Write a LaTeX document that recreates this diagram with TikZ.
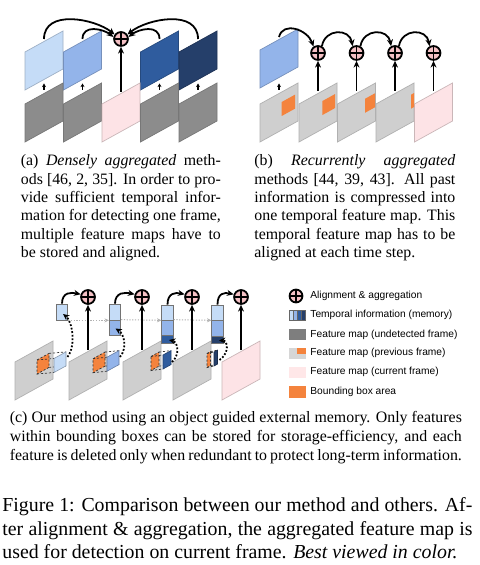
\documentclass[tikz,border=0pt]{standalone}
\usepackage{fontspec}
\setmainfont{Liberation Serif}
\newfontfamily\legendfont{Liberation Sans}
\usetikzlibrary{arrows.meta}
\definecolor{blA}{HTML}{C5DCF7}
\definecolor{blB}{HTML}{93B4EA}
\definecolor{blC}{HTML}{2F5C9E}
\definecolor{blD}{HTML}{253F6A}
\definecolor{grD}{HTML}{8C8C8C}
\definecolor{grL}{HTML}{CFCFCF}
\definecolor{pnk}{HTML}{FDE3E6}
\definecolor{org}{HTML}{F4833D}
\definecolor{cpink}{HTML}{F4C0C4}
\newcommand\fmapat[3]{\filldraw[#3] (#1,#2) -- ++(38,-21) -- ++(0,38) -- ++(-38,21) -- cycle;}
\newcommand\orgbox[3]{\fill[org] (#1,#2) -- ++(#3,{-0.5526*#3}) -- ++(0,14) -- ++(-#3,{0.5526*#3}) -- cycle;}
\newcommand\cubeat[6]{%
  \fill[org] (#1,#2) -- ++(#3,-#4) -- ++(0,14) -- ++(-#3,#4) -- cycle;
  \draw[dashln] (#1,#2) -- ++(#3,-#4) -- ++(0,14) -- ++(-#3,#4) -- cycle;
  \draw[dashln] (#1,#2) -- ++(#5,-1.5)
     ({#1+#3},{#2-#4}) -- ++(#5,-1.5)
     ({#1+#3},{#2-#4+14}) -- ++(#5,-1.5)
     (#1,{#2+14}) -- ++(#5,-1.5);
  \filldraw[fill=#6, draw=#6!70!black, line width=0.3pt] ({#1+#5},{#2-1.5}) -- ++(#3,-#4) -- ++(0,14) -- ++(-#3,#4) -- cycle;}
\newcommand\capsetup{\tolerance=10000\hbadness=10000\hyphenpenalty=10000\parindent=0pt\relax}
\begin{document}
\begin{tikzpicture}[x=0.504pt,y=-0.504pt,
  fA/.style={fill=blA,draw=blA!80!black,line width=0.35pt},
  fB/.style={fill=blB,draw=blB!80!black,line width=0.35pt},
  fC/.style={fill=blC,draw=blC!80!black,line width=0.35pt},
  fD/.style={fill=blD,draw=blD!80!black,line width=0.35pt},
  fdark/.style={fill=grD,draw=grD!85!black,line width=0.35pt},
  flight/.style={fill=grL,draw=grL!85!black,line width=0.35pt},
  fpink/.style={fill=pnk,draw=pnk!80!black,line width=0.35pt},
  agg/.style={circle,draw=black,line width=0.9pt,fill=cpink,minimum size=7pt,inner sep=0pt,
    path picture={\draw[line width=0.7pt] (path picture bounding box.north) -- (path picture bounding box.south)
      (path picture bounding box.west) -- (path picture bounding box.east);}},
  arr/.style={-{Stealth[length=3.4pt,width=3pt]},line width=0.9pt},
  tinyarr/.style={-{Stealth[length=1.8pt,width=2pt]},line width=0.6pt},
  dotarr/.style={-{Stealth[length=3.2pt,width=3pt]},line width=0.9pt,dash pattern=on 0.9pt off 0.9pt},
  gdot/.style={-{Stealth[length=2.2pt,width=2pt]},draw=black!30,line width=0.5pt,dash pattern=on 0.6pt off 0.8pt},
  dashln/.style={draw=black!80,line width=0.35pt,dash pattern=on 1.1pt off 0.9pt},
  mem/.style={draw=black!55,line width=0.35pt,minimum width=11.5*0.504pt,inner sep=0pt},
  captext/.style={anchor=north west,inner sep=0pt,align=justify},
  lgtext/.style={anchor=west,inner sep=0pt,font=\legendfont\fontsize{5.15}{6}\selectfont}]
\fill[white] (0,0) rectangle (479,565);
\useasboundingbox (0,0) rectangle (479,565);
% ---------------- panel (a)
\fmapat{25}{52}{fA}
\fmapat{63.5}{52}{fB}
\fmapat{140.5}{52}{fC}
\fmapat{179}{52}{fD}
\fmapat{25}{104}{fdark}
\fmapat{63.5}{104}{fdark}
\fmapat{102}{104}{fpink}
\fmapat{140.5}{104}{fdark}
\fmapat{179}{104}{fdark}
\foreach \i/\x in {1/44,2/82.5,4/159.5,5/198}{
  \coordinate (ta\i) at (\x,90);
  \coordinate (tb\i) at (\x,83.5);
  \draw[tinyarr] (ta\i) -- (tb\i);}
\node[agg] (ca) at (121,39) {};
\coordinate (pa) at (121,92);
\draw[arr] (pa) -- (ca.south);
\coordinate (a1) at (44,39);
\coordinate (a2) at (82.5,39);
\coordinate (a4) at (159.5,39);
\coordinate (a5) at (198,39);
\draw[arr] (a1) .. controls +(0,-30) and +(-20,-16) .. (ca.145);
\draw[arr] (a2) .. controls +(0,-15) and +(-10,-8) .. (ca.165);
\draw[arr] (a4) .. controls +(0,-15) and +(10,-8) .. (ca.15);
\draw[arr] (a5) .. controls +(0,-30) and +(20,-16) .. (ca.35);
% ---------------- panel (b)
\fmapat{260}{50}{fB}
\fmapat{260}{104}{flight}
\fmapat{299}{104}{flight}
\fmapat{337.5}{104}{flight}
\fmapat{376}{104}{flight}
\fmapat{414.5}{104}{fpink}
\orgbox{281.7}{102}{13.3}
\orgbox{322.3}{101.1}{12.7}
\orgbox{365}{98.8}{10}
\orgbox{411}{94.7}{3}
\coordinate (tbs) at (279,90);
\coordinate (tbe) at (279,83.5);
\draw[tinyarr] (tbs) -- (tbe);
\foreach \i/\x in {1/318,2/356.5,3/395,4/433.5}{
  \node[agg] (cb\i) at (\x,53) {};
  \coordinate (vb\i) at (\x,91);
  \draw[arr] (vb\i) -- (cb\i.south);}
\coordinate (bt) at (279,37);
\draw[arr] (bt) .. controls +(4,-16) and +(-6,-17) .. (cb1.125);
\draw[arr] (cb1.60) .. controls +(3,-18) and +(-3,-18) .. (cb2.120);
\draw[arr] (cb2.60) .. controls +(3,-18) and +(-3,-18) .. (cb3.120);
\draw[arr] (cb3.60) .. controls +(3,-18) and +(-3,-18) .. (cb4.120);
% ---------------- panel (c)
\fmapat{15}{362}{flight}
\fmapat{69}{362}{flight}
\fmapat{123}{362}{flight}
\fmapat{173}{362}{flight}
\fmapat{222}{362}{fpink}
\cubeat{37}{360}{12}{6.6}{17}{blA}
\cubeat{93}{358.7}{12}{6.6}{14}{blB}
\cubeat{151}{356.5}{8}{4.4}{12}{blC}
\cubeat{207}{353.5}{3.5}{1.9}{7}{blD}
% memory
\node[mem,fill=blA,minimum height=16*0.504pt] (m1a) at (62,312) {};
\node[mem,fill=blA,minimum height=16*0.504pt] (m2a) at (115,312) {};
\node[mem,fill=blB,minimum height=15*0.504pt] (m2b) at (115,327.5) {};
\node[mem,fill=blA,minimum height=15*0.504pt] (m3a) at (167.5,312.5) {};
\node[mem,fill=blB,minimum height=15*0.504pt] (m3b) at (167.5,327.5) {};
\node[mem,fill=blC,minimum height=8*0.504pt] (m3c) at (167.5,339) {};
\node[mem,fill=blA,minimum height=15*0.504pt] (m4a) at (217.5,312.5) {};
\node[mem,fill=blB,minimum height=16*0.504pt] (m4b) at (217.5,328) {};
\node[mem,fill=blD,minimum height=7*0.504pt] (m4c) at (217.5,339.5) {};
\draw[gdot] (m1a.south east) -- (m2a.south west);
\draw[gdot] (m2b.north east) -- (m3a.south west);
\draw[gdot] (m3b.north east) -- (m4a.south west);
\foreach \i/\x in {1/88,2/142,3/192,4/241}{
  \node[agg] (cc\i) at (\x,297) {};
  \coordinate (vc\i) at (\x,350);
  \draw[arr] (vc\i) -- (cc\i.south);}
\draw[arr] (m1a.north) .. controls +(0,-12) and +(-9,-2) .. (cc1.160);
\draw[arr] (m2a.north) .. controls +(0,-12) and +(-9,-2) .. (cc2.160);
\draw[arr] (m3a.north) .. controls +(0,-12) and +(-9,-2) .. (cc3.160);
\draw[arr] (m4a.north) .. controls +(0,-12) and +(-9,-2) .. (cc4.160);
\coordinate (d1s) at (67.5,357);
\coordinate (d1e) at (63,314);
\coordinate (d2s) at (120,357);
\coordinate (d2e) at (115.5,328.5);
\coordinate (d3s) at (172,362);
\coordinate (d3e) at (169,340);
\coordinate (d4s) at (219.5,360);
\coordinate (d4e) at (219,340.5);
\draw[dotarr] (d1s) .. controls +(9,-12) and +(9,7) .. (d1e);
\draw[dotarr] (d2s) .. controls +(8,-10) and +(8,5) .. (d2e);
\draw[dotarr] (d3s) .. controls +(8,-7) and +(9,2) .. (d3e);
\draw[dotarr] (d4s) .. controls +(10,-7) and +(9,0) .. (d4e);
% ---------------- legend
\node[agg,minimum size=6.5pt] (lg1) at (296,296) {};
\filldraw[fill=blA,draw=black!60,line width=0.3pt] (289,310) rectangle (293.5,320.5);
\filldraw[fill=blB,draw=black!60,line width=0.3pt] (293.5,310) rectangle (297.5,320.5);
\filldraw[fill=blC,draw=black!60,line width=0.3pt] (297.5,310) rectangle (301.5,320.5);
\filldraw[fill=blD,draw=black!60,line width=0.3pt] (301.5,310) rectangle (305.5,320.5);
\fill[grD!90!black] (289,329) rectangle (305.5,340);
\fill[grL!85!white] (289,348) rectangle (305.5,358.5);
\fill[org] (297,348) rectangle (305.5,353.5);
\fill[pnk!70!red!25!white] (289,366.5) rectangle (305.5,377.5);
\fill[org] (289,386) rectangle (305.5,397.5);
\node[lgtext] (l1) at (310,296) {Alignment \& aggregation};
\node[lgtext] (l2) at (310,315) {Temporal information (memory)};
\node[lgtext] (l3) at (310,334.5) {Feature map (undetected frame)};
\node[lgtext] (l4) at (310,353) {Feature map (previous frame)};
\node[lgtext] (l5) at (310,372) {Feature map (current frame)};
\node[lgtext] (l6) at (310,392) {Bounding box area};
% ---------------- captions
\node[captext,text width=100.8pt,font=\fontsize{8}{9.25}\selectfont] (capa) at (20.5,154.5)
 {\capsetup (a) \emph{Densely aggregated} meth-\linebreak ods [46, 2, 35]. In order to pro-\linebreak vide sufficient temporal infor-\linebreak mation for detecting one frame,\linebreak multiple feature maps have to\linebreak be stored and aligned.};
\node[captext,text width=101.3pt,font=\fontsize{8}{9.25}\selectfont] (capb) at (254,154.5)
 {\capsetup (b) \emph{Recurrently aggregated}\linebreak methods [44, 39, 43]. All past\linebreak information is compressed into\linebreak one temporal feature map. This\linebreak temporal feature map has to be\linebreak aligned at each time step.};
\node[captext,text width=227.8pt,font=\fontsize{8}{9.8}\selectfont] (capc) at (9.5,410.5)
 {\capsetup\parfillskip=0pt (c) Our method using an object guided external memory. Only features\linebreak within bounding boxes can be stored for storage-efficiency, and each\linebreak feature is deleted only when redundant to protect long-term information.};
\node[captext,text width=236.9pt,font=\fontsize{10}{11.95}\selectfont] (capf) at (2,497)
 {\capsetup Figure 1: Comparison between our method and others. Af-\linebreak ter alignment \& aggregation, the aggregated feature map is\linebreak used for detection on current frame. \emph{Best viewed in color.}};
\end{tikzpicture}
\end{document}
